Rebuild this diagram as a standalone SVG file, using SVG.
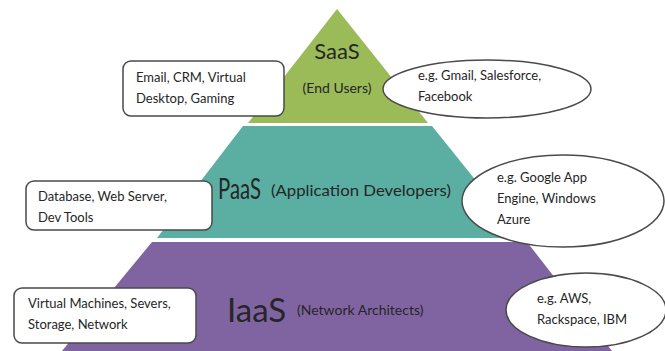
<svg xmlns="http://www.w3.org/2000/svg" width="665" height="351" viewBox="0 0 665 351">
<style>
.box{fill:#fff;stroke:#4a4a4a;stroke-width:1.5}
.t{font-family:Lato,"Open Sans","Liberation Sans",sans-serif;fill:#262626}
.s{font-size:13px}
</style>
<rect width="665" height="351" fill="#fff"/>
<g id="saas">
<polygon points="337,9 428,123 248,123" fill="#9bbb59"/>
<text class="t" x="337" y="59" font-size="22" text-anchor="middle">SaaS</text>
<text class="t" x="337" y="93" font-size="14" text-anchor="middle">(End Users)</text>
</g>
<g id="paas">
<polygon points="243,126 432,126 522,238 157,238" fill="#5aaea2"/>
<text class="t" x="218" y="199" font-size="29" textLength="43" lengthAdjust="spacingAndGlyphs">PaaS</text>
<text class="t" x="271" y="196" font-size="16" textLength="180" lengthAdjust="spacingAndGlyphs">(Application Developers)</text>
</g>
<g id="iaas">
<polygon points="152,242 527,242 612,351 62,351" fill="#8064a2"/>
<text class="t" x="227" y="322" font-size="33">IaaS</text>
<text class="t" x="297" y="315" font-size="14">(Network Architects)</text>
</g>
<g id="saas-uses">
<rect class="box" x="123" y="61" width="161" height="55" rx="8"/>
<text class="t s" x="136" y="82">Email, CRM, Virtual</text>
<text class="t s" x="136" y="103">Desktop, Gaming</text>
</g>
<g id="saas-examples">
<ellipse class="box" cx="487" cy="89" rx="104" ry="29"/>
<text class="t s" x="418" y="80">e.g. Gmail, Salesforce,</text>
<text class="t s" x="418" y="101">Facebook</text>
</g>
<g id="paas-uses">
<rect class="box" x="26" y="181" width="186" height="49" rx="8"/>
<text class="t s" x="38" y="201">Database, Web Server,</text>
<text class="t s" x="38" y="222">Dev Tools</text>
</g>
<g id="paas-examples">
<ellipse class="box" cx="563" cy="201" rx="101" ry="46"/>
<text class="t s" x="497" y="182">e.g. Google App</text>
<text class="t s" x="497" y="203">Engine, Windows</text>
<text class="t s" x="497" y="224">Azure</text>
</g>
<g id="iaas-uses">
<rect class="box" x="14" y="288" width="182" height="55" rx="8"/>
<text class="t s" x="28" y="308">Virtual Machines, Severs,</text>
<text class="t s" x="28" y="329">Storage, Network</text>
</g>
<g id="iaas-examples">
<ellipse class="box" cx="586" cy="310" rx="80" ry="37"/>
<text class="t s" x="537" y="303">e.g. AWS,</text>
<text class="t s" x="537" y="324">Rackspace, IBM</text>
</g>
<g id="connectors"></g>
</svg>
